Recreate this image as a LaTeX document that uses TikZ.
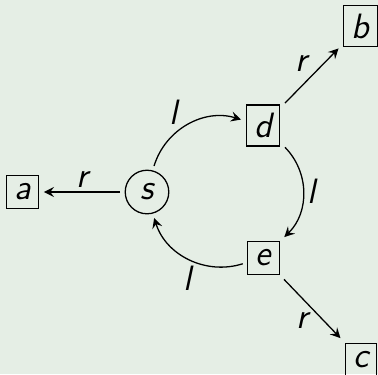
\documentclass[tikz,border=0pt]{standalone}
\definecolor{bgmint}{RGB}{229,238,229}
\begin{document}
\begin{tikzpicture}[x=0.3125pt,y=-0.3125pt,>=stealth,
    font=\fontsize{11}{13}\selectfont\sffamily\itshape,
    every node/.style={inner sep=2.5pt,outer sep=1.6pt},
    leaf/.style={draw,rectangle},
    hub/.style={draw,circle},
    lbl/.style={inner sep=1.3pt,outer sep=0pt}]
    \fill[bgmint] (0,0) rectangle (378,374);
    \useasboundingbox (0,0) rectangle (378,374);

    \node[hub]  (s) at (147,192)   {s};
    \node[leaf] (a) at (22.5,192)  {a};
    \node[leaf] (d) at (263,125.5) {d};
    \node[leaf] (e) at (263.5,258) {e};
    \node[leaf] (b) at (360.5,26)  {b};
    \node[leaf] (c) at (361,359.5) {c};

    \draw[->] (s) -- node[lbl,above] {r} (a);
    \draw[->] (d) -- node[lbl,above left] {r} (b);
    \draw[->] (e) -- node[lbl,below left] {r} (c);

    \draw[->] (s) to[bend left=45] node[lbl,auto,pos=0.43] {l} (d);
    \draw[->] (d) to[bend left=45] node[lbl,auto,pos=0.49] {l} (e);
    \draw[->] (e) to[bend left=45] node[lbl,auto,pos=0.43] {l} (s);
\end{tikzpicture}
\end{document}
